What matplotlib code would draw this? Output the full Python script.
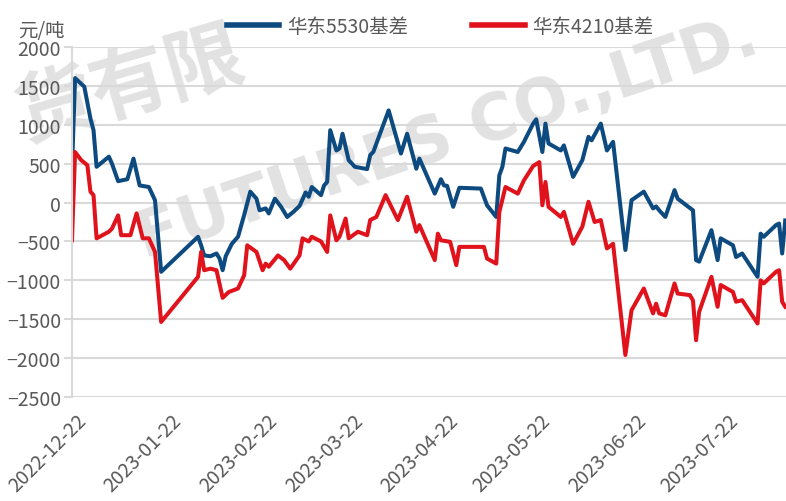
import matplotlib
matplotlib.use('Agg')
import matplotlib.pyplot as plt
import matplotlib.dates as mdates
import matplotlib.transforms as mtrans
import pandas as pd

plt.rcParams['font.family'] = ['Noto Sans CJK SC', 'DejaVu Sans']

# 华东5530基差
dates_5530 = ['2022-12-22', '2022-12-23', '2022-12-26', '2022-12-28', '2022-12-29', '2022-12-30',
              '2023-01-03', '2023-01-04', '2023-01-06', '2023-01-09', '2023-01-11', '2023-01-13',
              '2023-01-16', '2023-01-18', '2023-01-20', '2023-02-01', '2023-02-02', '2023-02-03',
              '2023-02-05', '2023-02-07', '2023-02-08', '2023-02-09', '2023-02-10', '2023-02-12',
              '2023-02-14', '2023-02-16', '2023-02-18', '2023-02-20', '2023-02-21', '2023-02-23',
              '2023-02-24', '2023-02-26', '2023-02-28', '2023-03-02', '2023-03-04', '2023-03-06',
              '2023-03-08', '2023-03-09', '2023-03-10', '2023-03-13', '2023-03-14', '2023-03-15',
              '2023-03-16', '2023-03-18', '2023-03-19', '2023-03-20', '2023-03-22', '2023-03-24',
              '2023-03-28', '2023-03-29', '2023-03-30', '2023-04-01', '2023-04-04', '2023-04-08',
              '2023-04-10', '2023-04-13', '2023-04-14', '2023-04-19', '2023-04-21', '2023-04-22',
              '2023-04-23', '2023-04-25', '2023-04-27', '2023-05-04', '2023-05-06', '2023-05-09',
              '2023-05-10', '2023-05-11', '2023-05-12', '2023-05-16', '2023-05-18', '2023-05-21',
              '2023-05-22', '2023-05-24', '2023-05-25', '2023-05-26', '2023-05-30', '2023-05-31',
              '2023-06-03', '2023-06-06', '2023-06-08', '2023-06-09', '2023-06-12', '2023-06-14',
              '2023-06-16', '2023-06-20', '2023-06-22', '2023-06-26', '2023-06-29', '2023-06-30',
              '2023-07-01', '2023-07-03', '2023-07-06', '2023-07-07', '2023-07-12', '2023-07-13',
              '2023-07-14', '2023-07-18', '2023-07-20', '2023-07-21', '2023-07-25', '2023-07-26',
              '2023-07-28', '2023-08-02', '2023-08-03', '2023-08-04', '2023-08-08', '2023-08-09',
              '2023-08-10', '2023-08-11']
basis_5530 = [437, 1600, 1490, 1080, 930, 460,
              590, 500, 275, 300, 565, 220,
              200, 30, -890, -440, -550, -680,
              -690, -655, -720, -870, -690, -530,
              -440, -160, 140, 50, -100, -75,
              -140, 50, -55, -185, -120, -45,
              130, 75, 200, 95, 220, 265,
              930, 670, 695, 885, 545, 460,
              430, 610, 650, 865, 1185, 630,
              885, 435, 565, 115, 300, 220,
              215, -55, 190, 180, -35, -185,
              350, 460, 695, 650, 780, 1015,
              1070, 650, 1015, 760, 670, 735,
              330, 545, 845, 800, 1015, 670,
              780, -610, 30, 140, -75, -50,
              -100, -185, 160, 50, -100, -740,
              -760, -355, -740, -460, -550, -700,
              -655, -955, -400, -440, -290, -270,
              -655, -230]

# 华东4210基差
dates_4210 = ['2022-12-22', '2022-12-23', '2022-12-25', '2022-12-27', '2022-12-28', '2022-12-29',
              '2022-12-30', '2023-01-03', '2023-01-04', '2023-01-06', '2023-01-07', '2023-01-10',
              '2023-01-12', '2023-01-14', '2023-01-16', '2023-01-18', '2023-01-20', '2023-02-01',
              '2023-02-02', '2023-02-03', '2023-02-05', '2023-02-07', '2023-02-09', '2023-02-11',
              '2023-02-14', '2023-02-16', '2023-02-17', '2023-02-20', '2023-02-22', '2023-02-23',
              '2023-02-24', '2023-02-27', '2023-03-01', '2023-03-03', '2023-03-06', '2023-03-07',
              '2023-03-09', '2023-03-10', '2023-03-13', '2023-03-15', '2023-03-16', '2023-03-18',
              '2023-03-19', '2023-03-21', '2023-03-22', '2023-03-25', '2023-03-28', '2023-03-29',
              '2023-03-31', '2023-04-03', '2023-04-07', '2023-04-10', '2023-04-13', '2023-04-14',
              '2023-04-19', '2023-04-20', '2023-04-21', '2023-04-24', '2023-04-26', '2023-04-27',
              '2023-05-05', '2023-05-06', '2023-05-09', '2023-05-10', '2023-05-12', '2023-05-16',
              '2023-05-18', '2023-05-21', '2023-05-23', '2023-05-24', '2023-05-25', '2023-05-26',
              '2023-05-30', '2023-05-31', '2023-06-03', '2023-06-06', '2023-06-08', '2023-06-10',
              '2023-06-12', '2023-06-14', '2023-06-16', '2023-06-20', '2023-06-22', '2023-06-26',
              '2023-06-29', '2023-06-30', '2023-07-01', '2023-07-03', '2023-07-06', '2023-07-07',
              '2023-07-11', '2023-07-12', '2023-07-13', '2023-07-14', '2023-07-18', '2023-07-20',
              '2023-07-21', '2023-07-25', '2023-07-26', '2023-07-28', '2023-08-02', '2023-08-03',
              '2023-08-04', '2023-08-08', '2023-08-09', '2023-08-10', '2023-08-11']
basis_4210 = [-485, 650, 545, 480, 140, 95,
              -460, -375, -335, -165, -420, -420,
              -140, -460, -460, -635, -1535, -955,
              -635, -870, -850, -870, -1225, -1150,
              -1105, -935, -550, -635, -870, -785,
              -825, -680, -740, -850, -680, -460,
              -500, -440, -500, -635, -165, -485,
              -440, -205, -460, -375, -420, -225,
              -185, 95, -225, 75, -375, -290,
              -740, -400, -485, -505, -805, -570,
              -570, -720, -785, -120, 200, 115,
              285, 470, 520, -35, 265, -55,
              -185, -120, -530, -310, 10, -250,
              -225, -590, -530, -1960, -1385, -1105,
              -1425, -1300, -1425, -1450, -1040, -1170,
              -1190, -1260, -1770, -1405, -955, -1340,
              -1060, -1150, -1275, -1255, -1555, -1000,
              -1040, -890, -870, -1275, -1340]

tick_dates = ['2022-12-22', '2023-01-22', '2023-02-22', '2023-03-22',
              '2023-04-22', '2023-05-22', '2023-06-22', '2023-07-22']
y_ticks = list(range(-2500, 2001, 500))

blue = '#0d4a7f'
red = '#e0121c'
grid_c = '#d9d9d9'
txt_c = '#595959'
wm_c = '#e2e2e2'

fig = plt.figure(figsize=(7.86, 5.02), dpi=100)
ax = fig.add_axes([72 / 786, 1 - 398 / 502, 1 - 72 / 786, 350 / 502])
ax.set_zorder(1)
ax.patch.set_visible(False)

# 水印（只画图里看得见的部分）
fig.text(24 / 786, 1 - 140 / 502, '货有限', rotation=16, rotation_mode='anchor',
         ha='left', va='baseline', fontsize=56, color=wm_c, zorder=0, fontweight='bold')
fig.text(762 / 786, 1 - 52 / 502, 'FUTURES CO.,LTD.', rotation=18.5, rotation_mode='anchor',
         ha='right', va='baseline', fontsize=46, color=wm_c, zorder=0,
         family=['DejaVu Sans'], fontweight='bold')

x1 = pd.to_datetime(dates_5530)
x2 = pd.to_datetime(dates_4210)
ax.plot(x1, basis_5530, color=blue, lw=2.9, label='华东5530基差', solid_joinstyle='round')
ax.plot(x2, basis_4210, color=red, lw=2.9, label='华东4210基差', solid_joinstyle='round')

ax.set_ylim(-2500, 2000)
ax.set_yticks(y_ticks)
ax.set_xlim(pd.Timestamp('2022-12-22'), pd.Timestamp('2023-08-11 06:00'))
ax.set_xticks(pd.to_datetime(tick_dates))
ax.xaxis.set_major_formatter(mdates.DateFormatter('%Y-%m-%d'))

ax.grid(axis='y', color=grid_c, lw=1.5)
ax.set_axisbelow(True)
for s in ['top', 'right', 'bottom']:
    ax.spines[s].set_visible(False)
ax.spines['left'].set_color(grid_c)
ax.spines['left'].set_linewidth(1.5)

ax.tick_params(axis='y', colors=grid_c, labelcolor=txt_c, labelsize=14, length=6, width=1.5, pad=2)
ax.tick_params(axis='x', length=0, labelcolor=txt_c, labelsize=14, pad=9)
shift = mtrans.ScaledTranslation(4 / 100, 0, fig.dpi_scale_trans)
for lb in ax.get_xticklabels():
    lb.set_rotation(45)
    lb.set_ha('right')
    lb.set_rotation_mode('anchor')
    lb.set_transform(lb.get_transform() + shift)

fig.text(18 / 786, 1 - 42 / 502, '元/吨', fontsize=14, color=txt_c, va='bottom', ha='left')

fig.legend(loc='center', bbox_to_anchor=(0.56, 0.945), ncol=2, frameon=False,
           fontsize=14, handlelength=2.7, handletextpad=0.4, columnspacing=3.3,
           labelcolor=txt_c)
for ln in fig.legends[0].get_lines():
    ln.set_linewidth(4)

fig.savefig('out.png', dpi=100)
